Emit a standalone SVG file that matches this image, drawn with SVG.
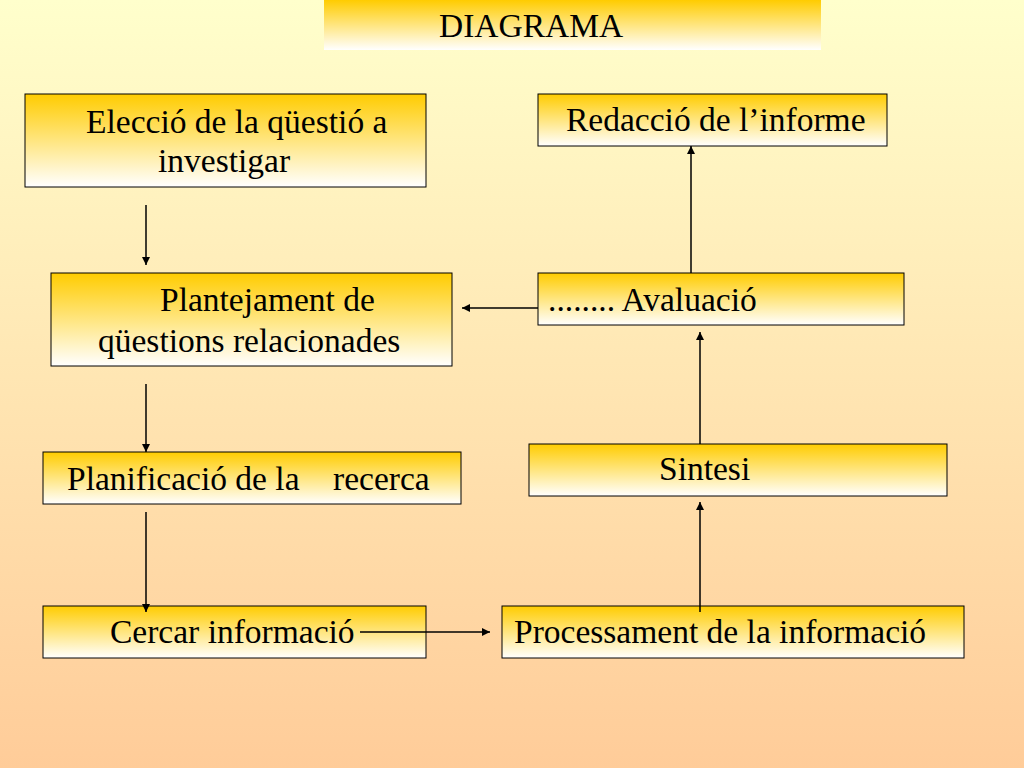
<svg xmlns="http://www.w3.org/2000/svg" width="1024" height="768" viewBox="0 0 1024 768">
<defs>
<linearGradient id="bg" x1="0" y1="0" x2="0" y2="1"><stop offset="0" stop-color="#FFFFCC"/><stop offset="1" stop-color="#FFCC99"/></linearGradient>
<linearGradient id="bx" x1="0" y1="0" x2="0" y2="1"><stop offset="0" stop-color="#FFCC00"/><stop offset="1" stop-color="#FFFFFF"/></linearGradient>
<marker id="ar" viewBox="0 0 10 10" refX="10" refY="5" markerWidth="8" markerHeight="8" orient="auto" markerUnits="userSpaceOnUse"><path d="M0,0 L10,5 L0,10 z" fill="#000"/></marker>
</defs>
<style>
.b{fill:url(#bx);stroke:#000;stroke-width:1}
.t{font-family:"Liberation Serif",serif;font-size:33.5px;fill:#000;white-space:pre}
.c{stroke:#000;stroke-width:1.5;fill:none;marker-end:url(#ar)}
</style>
<rect width="1024" height="768" fill="url(#bg)"/>
<g id="title"><rect x="324" y="0" width="497" height="50" fill="url(#bx)"/><text class="t" x="439" y="37">DIAGRAMA</text></g>
<g id="n1"><rect class="b" x="25" y="94" width="401" height="93"/><text class="t" x="86" y="133">Elecció de la qüestió a</text><text class="t" x="158" y="172">investigar</text></g>
<g id="n2"><rect class="b" x="51" y="273" width="401" height="93"/><text class="t" x="160" y="311">Plantejament de</text><text class="t" x="98" y="352">qüestions relacionades</text></g>
<g id="n3"><rect class="b" x="43" y="452" width="418" height="52"/><text class="t" x="67" y="490" xml:space="preserve">Planificació de la    recerca</text></g>
<g id="n4"><rect class="b" x="43" y="606" width="383" height="52"/><text class="t" x="110" y="643">Cercar informació</text></g>
<g id="n5"><rect class="b" x="502" y="606" width="462" height="52"/><text class="t" x="514" y="643">Processament de la informació</text></g>
<g id="n6"><rect class="b" x="529" y="444" width="418" height="52"/><text class="t" x="659" y="480">Sintesi</text></g>
<g id="n7"><rect class="b" x="538" y="273" width="366" height="52"/><text class="t" x="548" y="311">........ Avaluació</text></g>
<g id="n8"><rect class="b" x="538" y="94" width="349" height="52"/><text class="t" x="566" y="131">Redacció de l’informe</text></g>
<g id="connectors">
<line class="c" x1="146" y1="205" x2="146" y2="265"/>
<line class="c" x1="146" y1="384" x2="146" y2="452"/>
<line class="c" x1="146" y1="512" x2="146" y2="612"/>
<line class="c" x1="360" y1="632" x2="490" y2="632"/>
<line class="c" x1="700" y1="612" x2="700" y2="502"/>
<line class="c" x1="700" y1="444" x2="700" y2="332"/>
<line class="c" x1="538" y1="308" x2="462" y2="308"/>
<line class="c" x1="691" y1="273" x2="691" y2="146"/>
</g>
</svg>
